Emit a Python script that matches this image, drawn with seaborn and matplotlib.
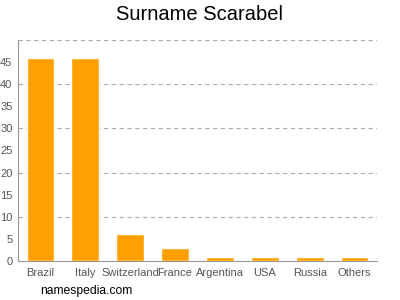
import matplotlib
matplotlib.use("Agg")
import matplotlib.pyplot as plt
import seaborn as sns
import pandas as pd

countries = ["Brazil", "Italy", "Switzerland", "France", "Argentina", "USA", "Russia", "Others"]
counts = [46, 46, 6, 3, 1, 1, 1, 1]
title = "Surname Scarabel"
footer = "namespedia.com"

sns.set_style("white")
plt.rcParams['font.family'] = ['Liberation Sans', 'DejaVu Sans']

df = pd.DataFrame({"country": countries, "count": counts})

fig = plt.figure(figsize=(4, 3), dpi=100)
ax = fig.add_axes([0.045, 0.13, 0.8975, 0.7367])
sns.barplot(data=df, x="country", y="count", color="#FFA000", saturation=1,
            width=0.62, ax=ax, zorder=3)

ax.set_xlim(-0.5, 7.5)
ax.set_ylim(0, 50)
major = [0, 10, 20, 30, 40, 50]
ax.set_yticks(major)
ax.set_yticklabels([str(v) if v < 50 else "" for v in major])
minor = [5, 15, 25, 35, 45]
ax.set_yticks(minor, minor=True)
ax.set_yticklabels([str(v) for v in minor], minor=True)
ax.grid(False)
ax.yaxis.grid(True, which="major", linestyle=(0, (4, 3)), color="#aaaaaa", linewidth=0.8, zorder=0)
ax.set_axisbelow(True)
ax.tick_params(axis="both", which="both", labelsize=8, colors="#555555", length=3, width=0.8)
ax.tick_params(axis="x", pad=2)
ax.tick_params(axis="y", which="both", pad=1)
ax.set_xlabel("")
ax.set_ylabel("")
for s in ["top", "right"]:
    ax.spines[s].set_visible(False)
for s in ["left", "bottom"]:
    ax.spines[s].set_color("#999999")
    ax.spines[s].set_linewidth(0.8)

fig.text(0.5, 0.95, title, ha="center", va="center", fontsize=14.5, color="#000000")
fig.text(0.1, 0.03, footer, ha="left", va="center", fontsize=8.7, color="#000000")

fig.savefig("out.png", dpi=100)
